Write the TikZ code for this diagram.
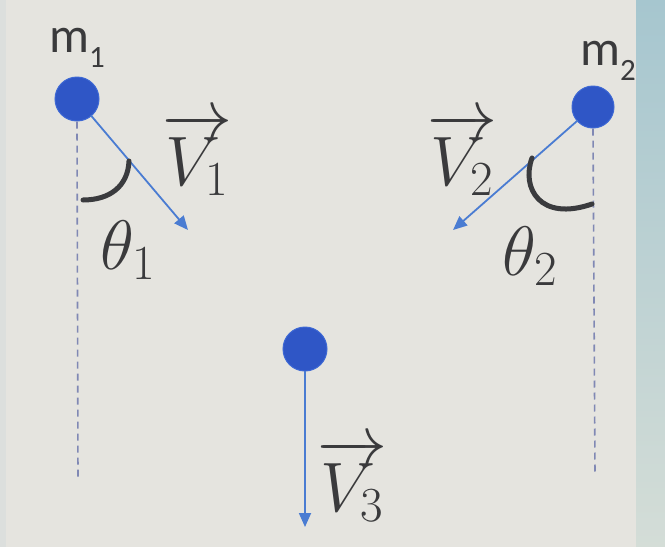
\documentclass[tikz,border=0pt]{standalone}
\usepackage{fix-cm}
\usepackage{fontspec}
\newfontfamily\carlito{Carlito}
\usetikzlibrary{arrows.meta}
\definecolor{bg}{HTML}{E5E4DF}
\definecolor{ballfill}{HTML}{2F56C6}
\definecolor{balledge}{HTML}{3D68D4}
\definecolor{vec}{HTML}{4A7CD2}
\definecolor{dashc}{HTML}{8088B4}
\definecolor{arcc}{HTML}{3A3B3E}
\definecolor{txt}{HTML}{3A3A3C}
\definecolor{stripA}{HTML}{A6C6CF}
\definecolor{stripB}{HTML}{D4DDD7}
\newcommand{\masstext}[1]{{\carlito\fontsize{50}{50}\selectfont m\raisebox{-0.3em}{\fontsize{31}{31}\selectfont #1}}}
\begin{document}
\begin{tikzpicture}[x=1pt,y=-1pt,
  ball/.style={circle,fill=ballfill,draw=balledge,line width=1pt,minimum size=44pt,inner sep=0pt},
  vecarrow/.style={vec,line width=1.8pt,-{Triangle[length=14pt,width=12pt]},shorten <=-1pt},
  vertline/.style={dashc,line width=1.6pt,dash pattern=on 7pt off 5pt},
  anglearc/.style={arcc,line width=5pt,line cap=round},
  masslabel/.style={text=txt,inner sep=0pt},
  veclabel/.style={text=txt,inner sep=0pt,font=\fontsize{70}{70}\selectfont}
]
\useasboundingbox (0,0) rectangle (665,547);
\fill[bg] (0,0) rectangle (665,547);
\shade[top color=stripA,bottom color=stripB] (636,0) rectangle (665,547);
\fill[bg!85!stripA] (0,0) rectangle (6,547);

% masses
\node[ball] (b1) at (77,99) {};
\node[ball,minimum size=42pt] (b2) at (593,107) {};
\node[ball] (b3) at (305,349) {};

\node[masslabel] (m1) at (77,48) {\masstext{1}};
\node[masslabel] (m2) at (608,61) {\masstext{2}};

% vertical reference lines
\coordinate (d1) at (78,480);
\coordinate (d2) at (595,475);
\draw[vertline] (b1.south) -- (d1);
\draw[vertline] (b2.south) -- (d2);

% velocity vectors
\coordinate (t1) at (188,230);
\coordinate (t2) at (453,230);
\coordinate (t3) at (305,527);
\draw[vecarrow] (b1) -- (t1);
\draw[vecarrow] (b2) -- (t2);
\draw[vecarrow] (b3.south) -- (t3);

% angle arcs
\draw[anglearc] (83,200) .. controls (110,200) and (128,186) .. (129,161);
\draw[anglearc] (532,158) .. controls (521,188) and (540,222) .. (592,204);

% labels
\node[veclabel] (v1) at (197,154) {$\overrightarrow{V_1}$};
\node[veclabel] (v2) at (462,154) {$\overrightarrow{V_2}$};
\node[veclabel] (v3) at (352,480) {$\overrightarrow{V_3}$};
\node[veclabel] (th1) at (128,250) {$\theta_1$};
\node[veclabel] (th2) at (530,256) {$\theta_2$};
\end{tikzpicture}
\end{document}
